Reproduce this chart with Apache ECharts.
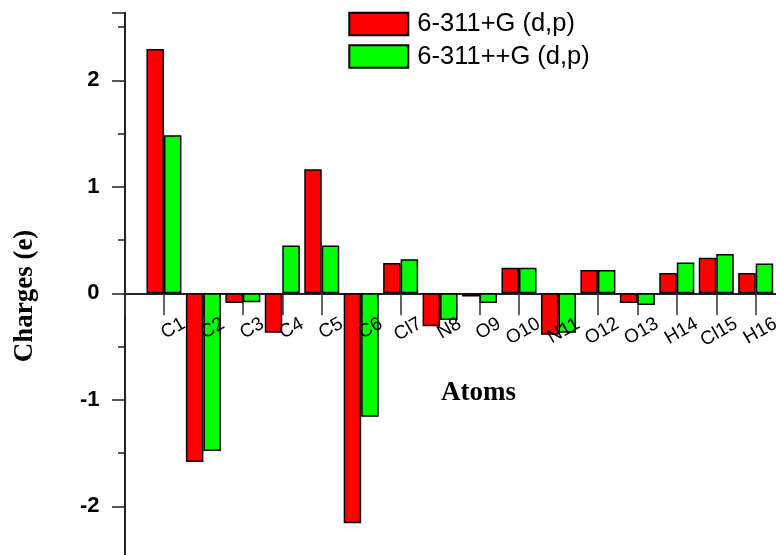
<!DOCTYPE html>
<html>
<head>
<meta charset="utf-8">
<script src="https://cdn.jsdelivr.net/npm/echarts@6/dist/echarts.min.js"></script>
<style>
  html, body { margin: 0; padding: 0; background: #fff; }
  #chart { width: 776px; height: 555px; }
</style>
</head>
<body>
<div id="chart"></div>
<script>
// Atom labels and their charges for the two basis sets
const atoms = ['C1', 'C2', 'C3', 'C4', 'C5', 'C6', 'Cl7', 'N8', 'O9', 'O10', 'N11', 'O12', 'O13', 'H14', 'Cl15', 'H16'];
const basisPlus = [2.295, -1.585, -0.09, -0.37, 1.165, -2.16, 0.285, -0.31, -0.03, 0.24, -0.39, 0.22, -0.09, 0.19, 0.335, 0.19];
const basisPlusPlus = [1.485, -1.48, -0.085, 0.45, 0.45, -1.16, 0.32, -0.25, -0.09, 0.24, -0.37, 0.22, -0.11, 0.29, 0.37, 0.28];
const seriesNames = ['6-311+G (d,p)', '6-311++G (d,p)'];
const yTicks = [-3, -2, -1, 0, 1, 2];

// atoms sit at x = 1..16 on the numeric axis; the label axis has a blank slot first
const labelSlots = [''].concat(atoms);
const toPairs = vals => vals.map((v, i) => [i + 1, v]);

const GRID_TOP = 12.7;
const GRID_BOTTOM = -57.8;
const Y_MIN = yTicks[0];
const Y_MAX = 2.635;
const plotHeight = 555 - GRID_TOP - GRID_BOTTOM;
// distance from the grid's lower edge up to the zero line
const zeroLift = plotHeight * (0 - Y_MIN) / (Y_MAX - Y_MIN);

const chart = echarts.init(document.getElementById('chart'), null, { renderer: 'canvas' });

chart.setOption({
  animation: false,
  backgroundColor: '#ffffff',
  grid: {
    left: 124.5,
    top: GRID_TOP,
    right: -19.15,
    bottom: GRID_BOTTOM,
    containLabel: false,
    outerBoundsMode: 'none'
  },
  legend: {
    orient: 'vertical',
    left: 348.3,
    top: 11,
    itemWidth: 59,
    itemHeight: 22.3,
    itemGap: 6.5,
    padding: 0,
    icon: 'rect',
    data: seriesNames,
    textStyle: {
      fontFamily: '"Liberation Sans", Arial, sans-serif',
      fontSize: 25.5,
      color: '#000',
      padding: [0, 0, 0, 4]
    }
  },
  xAxis: [
    {
      type: 'value',
      min: 0,
      max: 17,
      interval: 1,
      position: 'bottom',
      axisLine: { show: true, onZero: true, lineStyle: { color: '#222', width: 2 } },
      axisTick: { show: true, inside: false, length: 22, lineStyle: { color: '#333', width: 1.5 } },
      axisLabel: { show: false },
      splitLine: { show: false }
    },
    {
      type: 'category',
      data: labelSlots,
      boundaryGap: true,
      position: 'bottom',
      offset: -zeroLift,
      z: 10,
      axisLine: { show: false, onZero: false },
      axisTick: { show: false },
      splitLine: { show: false },
      axisLabel: {
        interval: 0,
        rotate: 30,
        margin: 29,
        fontFamily: '"Liberation Sans", Arial, sans-serif',
        fontSize: 19,
        color: '#000'
      }
    }
  ],
  yAxis: {
    type: 'value',
    min: Y_MIN,
    max: Y_MAX,
    interval: 1,
    axisLine: { show: true, onZero: false, lineStyle: { color: '#222', width: 2 } },
    axisTick: { show: true, inside: false, length: 12.5, lineStyle: { color: '#222', width: 1.5 } },
    minorTick: { show: true, splitNumber: 2, length: 6.5, lineStyle: { color: '#222', width: 1.5 } },
    splitLine: { show: false },
    minorSplitLine: { show: false },
    axisLabel: {
      margin: 25,
      fontFamily: '"Liberation Sans", Arial, sans-serif',
      fontSize: 22,
      fontWeight: 'bold',
      color: '#000',
      formatter: v => (yTicks.indexOf(v) >= 0 ? String(v) : '')
    }
  },
  graphic: [
    {
      type: 'text',
      x: 25,
      y: 296,
      rotation: Math.PI / 2,
      style: {
        text: 'Charges (e)',
        font: 'bold 27px "Liberation Serif", "Times New Roman", serif',
        fill: '#000',
        align: 'center',
        verticalAlign: 'middle',
        textAlign: 'center',
        textVerticalAlign: 'middle'
      }
    },
    {
      type: 'text',
      x: 478.5,
      y: 393,
      style: {
        text: 'Atoms',
        font: 'bold 27px "Liberation Serif", "Times New Roman", serif',
        fill: '#000',
        align: 'center',
        verticalAlign: 'middle',
        textAlign: 'center',
        textVerticalAlign: 'middle'
      }
    }
  ],
  series: [
    {
      name: seriesNames[0],
      type: 'bar',
      xAxisIndex: 0,
      data: toPairs(basisPlus),
      barWidth: 17.5,
      barGap: '0%',
      itemStyle: { color: '#ff0000', borderColor: '#000', borderWidth: 1.5 }
    },
    {
      name: seriesNames[1],
      type: 'bar',
      xAxisIndex: 0,
      data: toPairs(basisPlusPlus),
      barWidth: 17.5,
      barGap: '0%',
      itemStyle: { color: '#00ff00', borderColor: '#000', borderWidth: 1.5 }
    }
  ]
});
</script>
</body>
</html>
